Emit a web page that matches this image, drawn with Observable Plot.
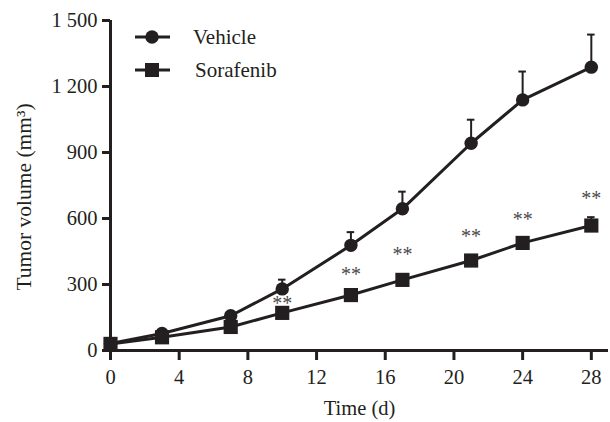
<!DOCTYPE html>
<html>
<head>
<meta charset="utf-8">
<script src="https://cdn.jsdelivr.net/npm/d3@7"></script>
<script src="https://cdn.jsdelivr.net/npm/@observablehq/plot@0.6"></script>
<style>
  html, body { margin: 0; padding: 0; background: #fff; }
  #wrap { position: relative; width: 610px; height: 422px; font-family: "Liberation Serif", "Times New Roman", serif; }
  #legend { position: absolute; left: 0; top: 0; pointer-events: none; }
</style>
</head>
<body>
<div id="wrap"></div>
<script>
const days = [0, 3, 7, 10, 14, 17, 21, 24, 28];
const vehicle = [32, 77, 158, 280, 478, 644, 942, 1139, 1288];
const vehicleErr = [0, 0, 0, 42, 60, 78, 107, 129, 148];
const sorafenib = [30, 60, 107, 171, 252, 321, 409, 489, 568];
const sorafenibErr = [0, 0, 0, 0, 0, 0, 0, 0, 38];
const starDays = [10, 14, 17, 21, 24, 28];
const starLabels = ["**", "**", "**", "**", "**", "**"];
const starY = [214, 344, 434, 520, 597, 692];
const xTicks = [0, 4, 8, 12, 16, 20, 24, 28];
const yTicks = [0, 300, 600, 900, 1200, 1500];
const seriesNames = ["Vehicle", "Sorafenib"];
const xTitle = "Time (d)";
const yTitle = "Tumor volume (mm³)";

const ink = "#231f20";
const veh = days.map((d, i) => ({day: d, v: vehicle[i], e: vehicleErr[i]}));
const sor = days.map((d, i) => ({day: d, v: sorafenib[i], e: sorafenibErr[i]}));
const stars = starDays.map((d, i) => ({day: d, y: starY[i], t: starLabels[i]}));
const capHalf = 0.22;

const chart = Plot.plot({
  width: 610,
  height: 422,
  marginLeft: 110,
  marginRight: 2,
  marginTop: 20,
  marginBottom: 72,
  style: {fontFamily: "Liberation Serif, serif", fontSize: "20.5px", color: ink, background: "white"},
  x: {domain: [0, 29]},
  y: {domain: [0, 1500]},
  marks: [
    Plot.axisX({ticks: xTicks, tickSize: 10, tickPadding: 9, strokeWidth: 3, stroke: ink, fill: ink,
      label: xTitle, labelAnchor: "center", labelArrow: "none", labelOffset: 64}),
    Plot.axisY({ticks: yTicks, tickSize: 8, tickPadding: 5, strokeWidth: 3, stroke: ink, fill: ink,
      tickFormat: d => d3.format(",")(d).replace(",", " "), label: null}),
    Plot.ruleX([0], {stroke: ink, strokeWidth: 3}),
    Plot.ruleY([0], {stroke: ink, strokeWidth: 3}),
    // error bars
    Plot.ruleX(veh.filter(d => d.e > 0), {x: "day", y1: "v", y2: d => d.v + d.e, stroke: ink, strokeWidth: 2}),
    Plot.ruleY(veh.filter(d => d.e > 0), {x1: d => d.day - capHalf, x2: d => d.day + capHalf, y: d => d.v + d.e, stroke: ink, strokeWidth: 2}),
    Plot.ruleX(sor.filter(d => d.e > 0), {x: "day", y1: "v", y2: d => d.v + d.e, stroke: ink, strokeWidth: 2}),
    Plot.ruleY(sor.filter(d => d.e > 0), {x1: d => d.day - capHalf, x2: d => d.day + capHalf, y: d => d.v + d.e, stroke: ink, strokeWidth: 2}),
    // vehicle
    Plot.line(veh, {x: "day", y: "v", stroke: ink, strokeWidth: 3}),
    Plot.dot(veh, {x: "day", y: "v", r: 6.7, fill: ink, stroke: "none", symbol: "circle"}),
    // sorafenib
    Plot.line(sor, {x: "day", y: "v", stroke: ink, strokeWidth: 3}),
    Plot.dot(sor, {x: "day", y: "v", r: 8, fill: ink, stroke: "none", symbol: "square"}),
    // significance
    Plot.text(stars, {x: "day", y: "y", text: "t", fill: "#4a4a4a", fontSize: 20, textAnchor: "middle", lineAnchor: "middle", letterSpacing: "2px"})
  ]
});
const wrap = document.getElementById("wrap");
wrap.appendChild(chart);

// legend + y title overlay
const ns = "http://www.w3.org/2000/svg";
const leg = document.createElementNS(ns, "svg");
leg.setAttribute("id", "legend");
leg.setAttribute("width", 610);
leg.setAttribute("height", 422);
const items = [
  {name: seriesNames[0], cy: 37, sym: "circle", tx: 193},
  {name: seriesNames[1], cy: 70, sym: "square", tx: 195}
];
items.forEach(it => {
  const ln = document.createElementNS(ns, "line");
  ln.setAttribute("x1", 135); ln.setAttribute("x2", 170);
  ln.setAttribute("y1", it.cy); ln.setAttribute("y2", it.cy);
  ln.setAttribute("stroke", ink); ln.setAttribute("stroke-width", 3);
  leg.appendChild(ln);
  let m;
  if (it.sym === "circle") {
    m = document.createElementNS(ns, "circle");
    m.setAttribute("cx", 152); m.setAttribute("cy", it.cy); m.setAttribute("r", 6.7);
  } else {
    m = document.createElementNS(ns, "rect");
    m.setAttribute("x", 152 - 7); m.setAttribute("y", it.cy - 7);
    m.setAttribute("width", 14); m.setAttribute("height", 14);
  }
  m.setAttribute("fill", ink);
  leg.appendChild(m);
  const t = document.createElementNS(ns, "text");
  t.setAttribute("x", it.tx); t.setAttribute("y", it.cy);
  t.setAttribute("dy", "0.35em");
  t.setAttribute("font-family", "Liberation Serif, serif");
  t.setAttribute("font-size", 21);
  t.setAttribute("fill", ink);
  t.textContent = it.name;
  leg.appendChild(t);
});
const yt = document.createElementNS(ns, "text");
yt.setAttribute("transform", "translate(23,197) rotate(-90)");
yt.setAttribute("text-anchor", "middle");
yt.setAttribute("dy", "0.35em");
yt.setAttribute("font-family", "Liberation Serif, serif");
yt.setAttribute("font-size", 21.5);
yt.setAttribute("fill", ink);
yt.textContent = yTitle;
leg.appendChild(yt);
wrap.appendChild(leg);
</script>
</body>
</html>
